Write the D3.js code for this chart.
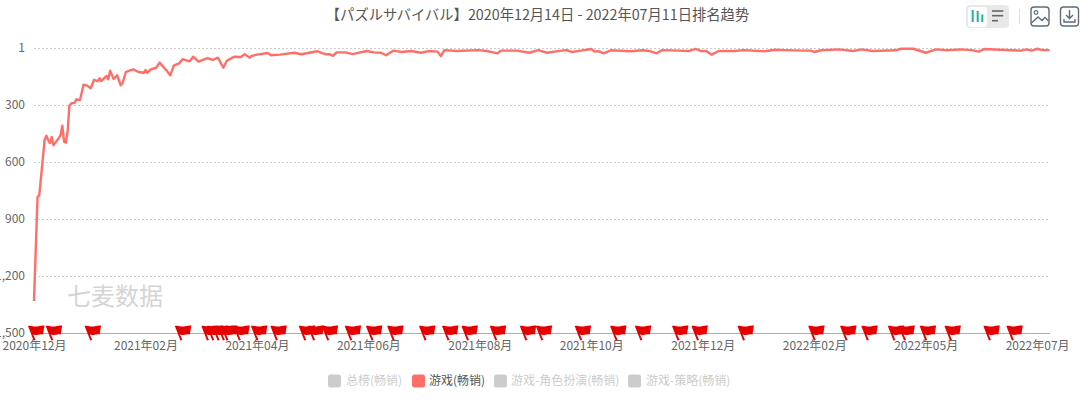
<!DOCTYPE html>
<html><head><meta charset="utf-8">
<script src="https://cdn.jsdelivr.net/npm/d3@7"></script>
<style>
html,body{margin:0;padding:0;background:#fff;overflow:hidden}
svg{display:block}
text{font-family:"Noto Sans CJK SC","Noto Sans",sans-serif}
</style></head><body><svg id="c" width="1080" height="402"></svg>
<script>
const startDate = "2020-12-14";
const endDate = "2022-07-11";
const titleText = "【パズルサバイバル】2020年12月14日 - 2022年07月11日排名趋势";
const watermarkText = "七麦数据";
const rankTicks = [1,300,600,900,1200,1500];
const rankTickLabels = ["1","300","600","900","1,200","1,500"];
const tickDays = [0,63,126,189,252,315,378,441,504,567];
const tickLabels = ["2020年12月","2021年02月","2021年04月","2021年06月","2021年08月","2021年10月","2021年12月","2022年02月","2022年05月","2022年07月"];
const legendNames = ["总榜(畅销)","游戏(畅销)","游戏-角色扮演(畅销)","游戏-策略(畅销)"];
const legendActive = [false,true,false,false];
// days since start date, and the rank read on that day
const lineDays = [0,2,3,6,7,8,9,10,11,14,15,16,17,18,19,20,21,23,24,26,28,30,32,34,36,37,38,41,42,43,45,47,49,50,52,56,59,62,63,64,66,69,71,74,75,77,79,82,84,88,90,93,98,101,104,107,109,113,117,119,122,123,126,132,134,139,147,151,160,165,167,169,171,176,180,188,192,196,199,203,208,213,219,223,228,230,232,239,251,256,262,264,273,280,285,290,298,301,304,309,315,317,319,322,326,337,344,348,352,355,364,370,374,377,380,383,387,396,401,413,419,424,435,439,441,445,455,463,468,474,487,490,497,504,510,516,524,530,534,537,546,558,561,564,567,570,574];
const lineRanks = [1332,785,775,485,463,485,501,469,512,475,459,410,494,499,440,305,292,289,271,275,194,199,213,168,176,160,175,148,166,120,164,145,197,187,126,113,127,131,117,131,113,105,78,110,120,145,94,82,60,71,47,73,54,64,52,105,68,47,48,34,52,43,36,27,39,36,26,34,18,34,33,42,24,24,33,17,24,26,39,15,22,17,26,17,20,43,12,17,12,17,29,15,15,26,12,26,15,12,22,15,6,20,18,29,13,18,13,17,29,12,15,17,6,17,17,36,17,17,12,18,10,12,15,15,22,13,8,17,8,17,13,5,5,26,8,13,8,12,20,6,10,15,8,15,5,12,12];
const flagDays = [0,10,32,83,98,101,104,107,109,116,126,137,153,158,166,179,191,203,221,234,245,261,278,287,309,329,343,364,375,401,441,459,471,486,492,504,518,540,553];

const svg = d3.select("#c");
const parse = d3.utcParse("%Y-%m-%d");
const t0 = parse(startDate);
const dateOf = d => d3.utcDay.offset(t0, d);
const x = d3.scaleUtc().domain([t0, parse(endDate)]).range([34, 1049.5]);
const y = d3.scaleLinear().domain([1,1500]).range([48,333]);

// grid
svg.append("g").selectAll("line").data(rankTicks.slice(0,-1)).join("line")
  .attr("x1",34).attr("x2",1050).attr("y1",d=>Math.round(y(d))+.5).attr("y2",d=>Math.round(y(d))+.5)
  .attr("stroke","#ccc").attr("stroke-width",1).attr("stroke-dasharray","2 2");

// y axis
const ya = svg.append("g").attr("transform","translate(34,0)")
  .call(d3.axisLeft(y).tickValues(rankTicks).tickFormat((d,i)=>rankTickLabels[i]).tickSize(0).tickPadding(9));
ya.select(".domain").remove();
ya.selectAll("text").attr("fill","#666").style("font-size","12px").style("font-family",'"Noto Sans CJK SC"');

// x axis
const xa = svg.append("g").attr("transform","translate(0,333)")
  .call(d3.axisBottom(x).tickValues(tickDays.map(dateOf)).tickFormat((d,i)=>tickLabels[i]).tickSize(0).tickPadding(8));
xa.select(".domain").attr("stroke","#a8adbf").attr("stroke-width",1);
xa.selectAll("text").attr("fill","#666").style("font-size","12px").style("font-family",'"Noto Sans CJK SC"');

// watermark
svg.append("text").attr("x",67).attr("y",305).attr("font-size",24).attr("font-weight",400).attr("fill","#d4d4d4").text(watermarkText);

// line
const line = d3.line().x(d=>x(dateOf(d[0]))).y(d=>y(d[1])).curve(d3.curveLinear);
svg.append("path").datum(lineDays.map((d,i)=>[d,lineRanks[i]]))
  .attr("d",line).attr("fill","none").attr("stroke","#ff6f69").attr("stroke-width",2.4).attr("stroke-linejoin","round");

// flags
const flagPath = "M-6,-14 C-3,-15 -1,-13.5 1.5,-13.5 C4.5,-13.5 7,-15 10.5,-14.5 C10,-12 9.5,-8.5 9,-5.5 C6,-6.5 4,-5 1,-5 C0.5,-5 0,-5.2 -0.8,-5.5 L1.6,0 L-0.4,0.6 Z";
svg.append("g").selectAll("path").data(flagDays).join("path")
  .attr("transform",d=>`translate(${x(dateOf(d))},340)`).attr("d",flagPath).attr("fill","#e60000");

// title
svg.append("text").attr("x",537.5).attr("y",20).attr("text-anchor","middle").attr("font-size",14.3).attr("fill","#555").text(titleText);

// legend
const legendBox = [328,412,494,628];
const legendText = [346,429,511,646];
legendNames.forEach((n,i)=>{
  svg.append("rect").attr("x",legendBox[i]).attr("y",374.5).attr("width",13).attr("height",13).attr("rx",2.5)
    .attr("fill",legendActive[i]?"#ff6f69":"#ccc");
  svg.append("text").attr("x",legendText[i]).attr("y",385).attr("font-size",12)
    .attr("fill",legendActive[i]?"#555":"#ccc").text(n);
});

// toolbar
const tb = svg.append("g");
tb.append("rect").attr("x",966).attr("y",5).attr("width",43).attr("height",23).attr("rx",4).attr("fill","#e8e8e8");
tb.append("rect").attr("x",968).attr("y",7).attr("width",19).attr("height",20).attr("rx",3).attr("fill","#fff");
[[972.7,10],[977.7,11],[982.3,14.5]].forEach(b=>tb.append("rect").attr("x",b[0]-1).attr("y",b[1]).attr("width",2).attr("height",22-b[1]).attr("fill","#1fb5a0"));
[[992,1003.3,11],[992,1003.3,15.7],[992,998,20.7]].forEach(l=>tb.append("line").attr("x1",l[0]).attr("x2",l[1]).attr("y1",l[2]).attr("y2",l[2]).attr("stroke","#666").attr("stroke-width",1.6));
tb.append("line").attr("x1",1019.5).attr("x2",1019.5).attr("y1",9).attr("y2",24).attr("stroke","#ddd");
const ic = "#5f6b7c";
tb.append("rect").attr("x",1031).attr("y",7).attr("width",18).attr("height",19).attr("rx",3).attr("fill","none").attr("stroke",ic).attr("stroke-width",1.4);
tb.append("circle").attr("cx",1036).attr("cy",12.5).attr("r",1.8).attr("fill","none").attr("stroke",ic).attr("stroke-width",1.2);
tb.append("path").attr("d","M1031.5,23 L1038,17 L1042,20.5 L1045,17.5 L1048.5,21").attr("fill","none").attr("stroke",ic).attr("stroke-width",1.4);
tb.append("rect").attr("x",1060.5).attr("y",7).attr("width",18).attr("height",19).attr("rx",3).attr("fill","none").attr("stroke",ic).attr("stroke-width",1.4);
tb.append("path").attr("d","M1069.5,10 V18 M1066,15 L1069.5,18.5 L1073,15 M1064,19 V22 H1075 V19").attr("fill","none").attr("stroke",ic).attr("stroke-width",1.4);
</script></body></html>
